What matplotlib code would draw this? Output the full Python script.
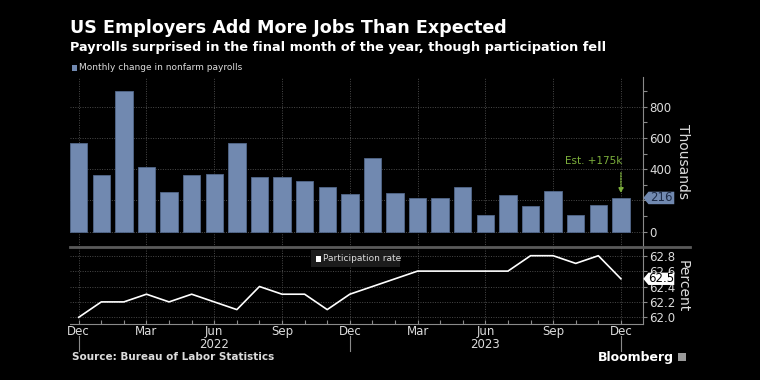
import matplotlib
matplotlib.use("Agg")
import matplotlib.pyplot as plt
import matplotlib.transforms as mtransforms
from matplotlib.patches import Polygon, Rectangle
from matplotlib.lines import Line2D

# ---- data (Dec 2021 .. Dec 2023) ----
months = ["Dec", "Jan", "Feb", "Mar", "Apr", "May", "Jun", "Jul", "Aug", "Sep", "Oct", "Nov",
          "Dec", "Jan", "Feb", "Mar", "Apr", "May", "Jun", "Jul", "Aug", "Sep", "Oct", "Nov", "Dec"]
payrolls = [565, 365, 900, 414, 252, 365, 369, 565, 352, 348, 322, 288,
            239, 469, 250, 216, 216, 284, 107, 235, 166, 262, 105, 173, 216]
participation = [62.0, 62.2, 62.2, 62.3, 62.2, 62.3, 62.2, 62.1, 62.4, 62.3, 62.3, 62.1,
                 62.3, 62.4, 62.5, 62.6, 62.6, 62.6, 62.6, 62.6, 62.8, 62.8, 62.7, 62.8, 62.5]
tick_pos = [0, 3, 6, 9, 12, 15, 18, 21, 24]
tick_labels = ["Dec", "Mar", "Jun", "Sep", "Dec", "Mar", "Jun", "Sep", "Dec"]
year_pos = [6, 18]
year_labels = ["2022", "2023"]
year_breaks = [0, 12, 24]
estimate = 175

BG = "black"
BAR = "#7189b0"
GRID = "#4a4a4a"
SPINE = "#8a8a8a"
TXT = "#dcdcdc"
GREEN = "#7db03c"
W, H = 760, 380


def px(x, y):
    return x / W, 1 - y / H


def value_tag(ax, val, half, face, label, color):
    # small pointed tag sitting on the right spine
    tr = mtransforms.blended_transform_factory(ax.transAxes, ax.transData)
    ax.add_patch(Polygon([(1.0, val), (1.009, val + half), (1.054, val + half),
                          (1.054, val - half), (1.009, val - half)], closed=True, transform=tr,
                         facecolor=face, edgecolor="none", clip_on=False, zorder=5))
    ax.text(1.032, val, label, transform=tr, color=color, fontsize=8.5,
            ha="center", va="center", clip_on=False, zorder=6)


plt.rcParams["font.family"] = ["DejaVu Sans"]
fig = plt.figure(figsize=(7.6, 3.8), dpi=100, facecolor=BG)

ax1 = fig.add_axes([70 / W, 1 - 246.7 / H, 573.3 / W, 169.7 / H])
ax2 = fig.add_axes([70 / W, 1 - 324 / H, 573.3 / W, 77.3 / H], sharex=ax1)
x = list(range(len(months)))

# ---- top: payrolls bars ----
ax1.set_facecolor(BG)
ax1.bar(x, payrolls, width=0.77, color=BAR, edgecolor="#52678a", linewidth=0.6, zorder=2)
ax1.set_xlim(-0.385, 24.99)
ax1.set_ylim(-96, 990)
ax1.yaxis.tick_right()
ax1.set_yticks([0, 200, 400, 600, 800])
ax1.set_yticklabels(["0", "", "400", "600", "800"])  # 200 sits under the value tag
ax1.set_yticks(range(100, 1000, 200), minor=True)
ax1.tick_params(axis="y", which="both", colors=SPINE, labelcolor=TXT, labelsize=8.5,
                length=3, width=0.8, pad=1.5, direction="out")
ax1.tick_params(axis="x", which="both", bottom=False, labelbottom=False)
for s in ["top", "left", "bottom"]:
    ax1.spines[s].set_visible(False)
ax1.spines["right"].set_color(SPINE)
ax1.grid(True, which="major", color=GRID, linestyle=(0, (1, 1.5)), linewidth=0.7, zorder=0)
ax1.set_xticks(tick_pos)

# estimate annotation
last = len(payrolls) - 1
ax1.annotate("", xy=(last, payrolls[last] + 12), xytext=(last, 395),
             arrowprops=dict(arrowstyle="-|>", linestyle=(0, (1, 1)), color=GREEN,
                             lw=1, mutation_scale=7), zorder=4)
ax1.text(last + 0.08, 455, f"Est. +{estimate}k", color=GREEN, fontsize=7.5,
         ha="right", va="center")
value_tag(ax1, payrolls[last], 40, BAR, str(payrolls[last]), "#1e2c48")

# ---- bottom: participation line ----
ax2.set_facecolor(BG)
ax2.plot(x, participation, color="white", lw=1.2, zorder=3)
ax2.set_ylim(61.913, 62.917)
ax2.yaxis.tick_right()
ax2.set_yticks([62.0, 62.2, 62.4, 62.6, 62.8])
ax2.set_yticklabels(["62.0", "62.2", "62.4", "62.6", "62.8"])
ax2.tick_params(axis="y", which="both", colors=SPINE, labelcolor=TXT, labelsize=8.5,
                length=3, width=0.8, pad=1.5)
ax2.set_xticks(tick_pos)
ax2.set_xticklabels(tick_labels)
ax2.set_xticks([i for i in x if i not in tick_pos], minor=True)
ax2.tick_params(axis="x", which="both", colors=SPINE, labelcolor=TXT, labelsize=8.5,
                length=3, width=0.8, pad=1, direction="in")
for s in ["top", "left"]:
    ax2.spines[s].set_visible(False)
ax2.spines["right"].set_color(SPINE)
ax2.spines["bottom"].set_color(SPINE)
ax2.grid(True, which="major", color=GRID, linestyle=(0, (1, 1.5)), linewidth=0.7, zorder=0)

trb = mtransforms.blended_transform_factory(ax2.transData, ax2.transAxes)
for p, lab in zip(year_pos, year_labels):
    ax2.text(p, -0.27, lab, transform=trb, color=TXT, fontsize=8.5,
             ha="center", va="center", clip_on=False)
for p in year_breaks:
    ax2.add_line(Line2D([p, p], [-0.16, -0.35], transform=trb, color=SPINE, lw=0.8, clip_on=False))

value_tag(ax2, participation[-1], 0.08, "white", f"{participation[-1]:.1f}", "black")

# separator between panels
fig.add_artist(Line2D([70 / W, 690 / W], [1 - 246.7 / H] * 2, color="#5a5a5a", lw=2))

# axis titles
fig.text(*px(683, 161), "Thousands", rotation=270, color=TXT, fontsize=10, ha="center", va="center")
fig.text(*px(683, 286), "Percent", rotation=270, color=TXT, fontsize=10, ha="center", va="center")

# legends
fig.add_artist(Rectangle(px(72, 71), 5 / W, 6 / H, facecolor=BAR, edgecolor="none"))
fig.text(*px(79, 68), "Monthly change in nonfarm payrolls", color=TXT, fontsize=6.5, va="center")
fig.add_artist(Rectangle(px(311, 266.7), 89 / W, 16.7 / H, facecolor="#1c1c1c", edgecolor="none"))
fig.add_artist(Rectangle(px(316, 261.5), 5 / W, 6 / H, facecolor="white", edgecolor="none"))
fig.text(*px(323, 258.5), "Participation rate", color=TXT, fontsize=6.5, va="center")

# titles
fig.text(*px(70, 28), "US Employers Add More Jobs Than Expected", color="white",
         fontsize=12.6, fontweight="bold", va="center")
fig.text(*px(70, 48), "Payrolls surprised in the final month of the year, though participation fell",
         color="white", fontsize=9.3, fontweight="bold", va="center")

# footer
fig.text(*px(72, 357), "Source: Bureau of Labor Statistics", color=TXT, fontsize=7.5,
         fontweight="bold", va="center")
fig.text(*px(674, 357), "Bloomberg", color="white", fontsize=9, fontweight="bold",
         va="center", ha="right")
fig.add_artist(Rectangle(px(678, 361), 8 / W, 8 / H, facecolor="#9a9a9a", edgecolor="none"))

fig.savefig("out.png", dpi=100, facecolor=BG)
